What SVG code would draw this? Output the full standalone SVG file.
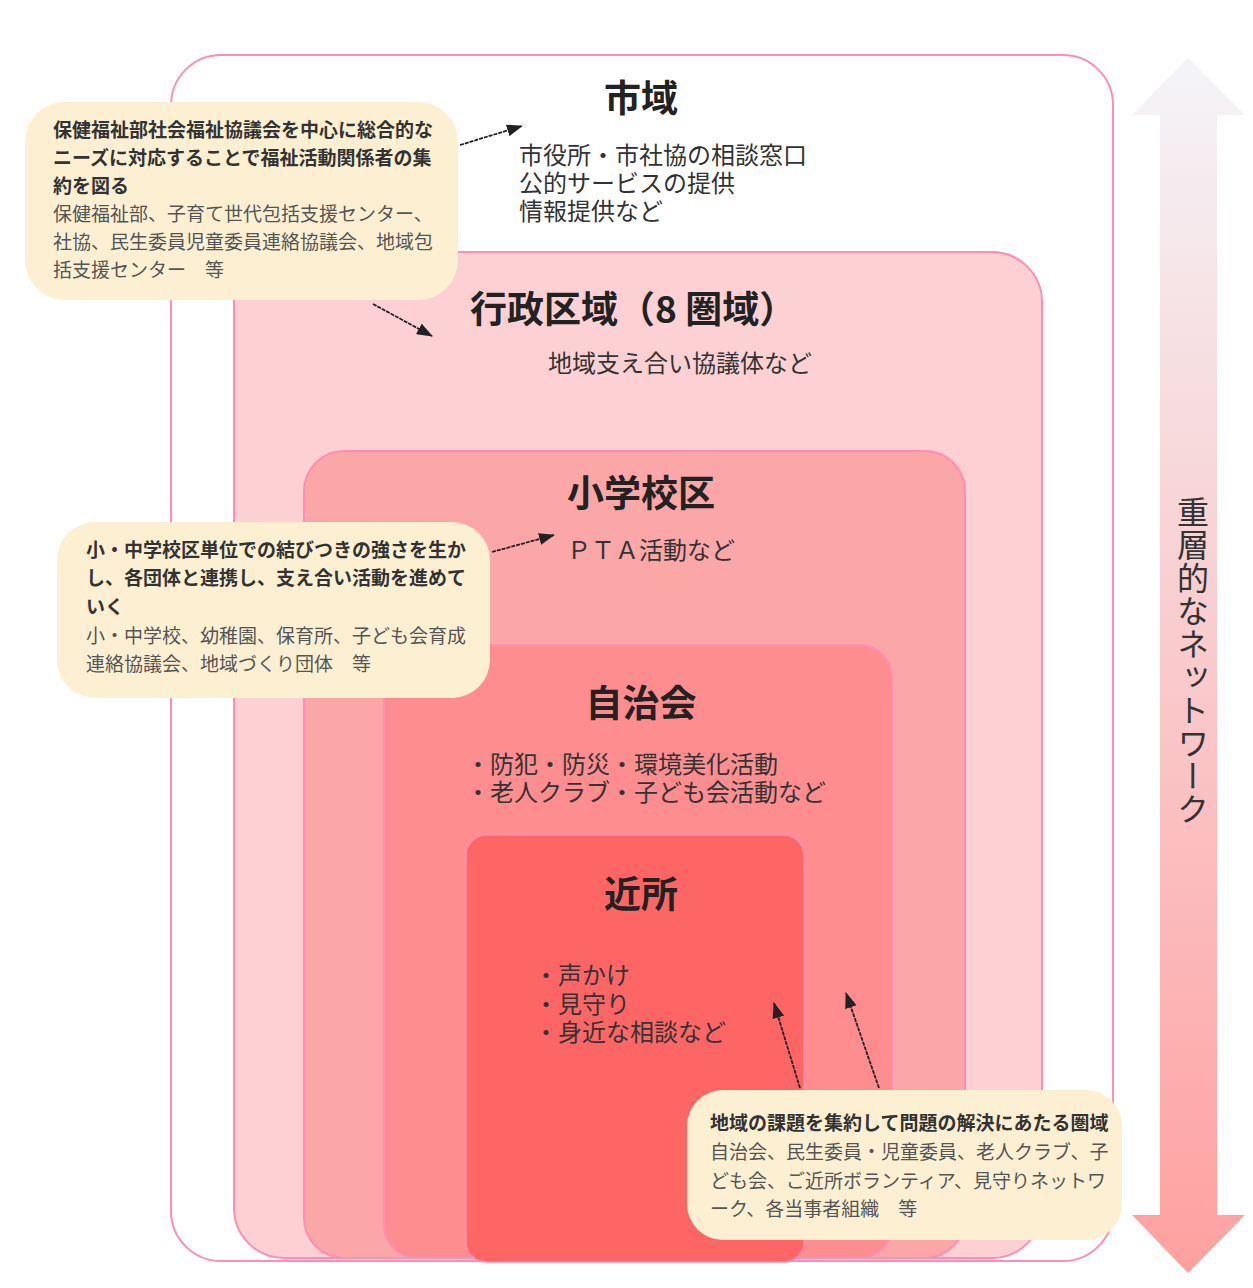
<svg xmlns="http://www.w3.org/2000/svg" width="1253" height="1288" viewBox="0 0 1253 1288">
<defs>
<linearGradient id="g" x1="0" y1="0" x2="0" y2="1">
<stop offset="0" stop-color="#f4f4f8"/>
<stop offset="1" stop-color="#ffa0a0"/>
</linearGradient>
<marker id="a2" viewBox="0 0 16 12" refX="15" refY="6" markerWidth="16" markerHeight="12" orient="auto" markerUnits="userSpaceOnUse">
<path d="M0,0 L16,6 L0,12 z" fill="#222"/>
</marker>
</defs>
<style>
.area{stroke:#ff8db5;stroke-width:2}
.title{font-family:"Noto Sans CJK JP","Noto Sans",sans-serif;font-size:37px;font-weight:bold;fill:#222;text-anchor:middle}
.t{font-family:"Noto Sans CJK JP","Noto Sans",sans-serif;font-size:24px;fill:#333}
.box{fill:#fdf0d2}
.cb{font-family:"Noto Sans CJK JP","Noto Sans",sans-serif;font-size:19px;font-weight:bold;fill:#333}
.cr{font-family:"Noto Sans CJK JP","Noto Sans",sans-serif;font-size:19px;fill:#555}
.con{stroke:#222;stroke-width:1.8;stroke-dasharray:4 1;fill:none}
</style>
<rect width="1253" height="1288" fill="#ffffff"/>
<g id="network-arrow">
<polygon points="1188,58 1245,115 1217,115 1217,1215 1245,1215 1188,1273 1132,1215 1160,1215 1160,115 1132,115" fill="url(#g)"/>
<text x="1193" y="496" font-family="Noto Sans CJK JP,sans-serif" font-size="32" fill="#333" writing-mode="vertical-rl" letter-spacing="1" style="writing-mode:vertical-rl">重層的なネットワーク</text>
</g>
<g id="shiiki">
<rect class="area" x="171" y="55" width="942" height="1206" rx="50" fill="#ffffff"/>
<text class="title" x="641" y="112">市域</text>
<text class="t" x="519" y="164">市役所・市社協の相談窓口</text>
<text class="t" x="519" y="192">公的サービスの提供</text>
<text class="t" x="519" y="220">情報提供など</text>
</g>
<g id="gyoseikuiki">
<rect class="area" x="234" y="252" width="808" height="1006" rx="50" fill="#fdd1d4"/>
<text class="title" x="470" y="323" style="text-anchor:start">行政区域（8 圏域）</text>
<text class="t" x="548" y="372">地域支え合い協議体など</text>
</g>
<g id="shogakkouku">
<rect class="area" x="304" y="451" width="661" height="807" rx="40" fill="#fca7a7"/>
<text class="title" x="641" y="507">小学校区</text>
<text class="t" x="567" y="559">ＰＴＡ活動など</text>
</g>
<g id="jichikai">
<rect class="area" x="384" y="645" width="508" height="613" rx="33" fill="#fd8d8f"/>
<text class="title" x="641" y="717">自治会</text>
<text class="t" x="466" y="773">・防犯・防災・環境美化活動</text>
<text class="t" x="466" y="801">・老人クラブ・子ども会活動など</text>
</g>
<g id="kinjo">
<rect x="466" y="835" width="338" height="427" rx="20" fill="#fe6666" stroke="#ff8db5" stroke-width="1.5"/>
<text class="title" x="641" y="908">近所</text>
<text class="t" x="534" y="984">・声かけ</text>
<text class="t" x="534" y="1013">・見守り</text>
<text class="t" x="534" y="1041">・身近な相談など</text>
</g>
<g id="callout-shiiki">
<rect class="box" x="25" y="102" width="433" height="198" rx="40"/>
<text class="cb" x="53" y="137">保健福祉部社会福祉協議会を中心に総合的な</text>
<text class="cb" x="53" y="165">ニーズに対応することで福祉活動関係者の集</text>
<text class="cb" x="53" y="193">約を図る</text>
<text class="cr" x="53" y="221">保健福祉部、子育て世代包括支援センター、</text>
<text class="cr" x="53" y="249">社協、民生委員児童委員連絡協議会、地域包</text>
<text class="cr" x="53" y="277">括支援センター　等</text>
</g>
<g id="callout-school">
<rect class="box" x="57" y="522" width="433" height="176" rx="38"/>
<text class="cb" x="86" y="557">小・中学校区単位での結びつきの強さを生か</text>
<text class="cb" x="86" y="585">し、各団体と連携し、支え合い活動を進めて</text>
<text class="cb" x="86" y="614">いく</text>
<text class="cr" x="86" y="643">小・中学校、幼稚園、保育所、子ども会育成</text>
<text class="cr" x="86" y="671">連絡協議会、地域づくり団体　等</text>
</g>
<g id="callout-local">
<rect class="box" x="687" y="1090" width="435" height="150" rx="36"/>
<text class="cb" x="710" y="1130">地域の課題を集約して問題の解決にあたる圏域</text>
<text class="cr" x="710" y="1159">自治会、民生委員・児童委員、老人クラブ、子</text>
<text class="cr" x="710" y="1188">ども会、ご近所ボランティア、見守りネットワ</text>
<text class="cr" x="710" y="1216">ーク、各当事者組織　等</text>
</g>
<g id="connectors">
<line class="con" x1="460" y1="145" x2="522" y2="126" marker-end="url(#a2)"/>
<line class="con" x1="373" y1="304" x2="432" y2="336" marker-end="url(#a2)"/>
<line class="con" x1="492" y1="552" x2="554" y2="535" marker-end="url(#a2)"/>
<line class="con" x1="800" y1="1088" x2="774" y2="1003" marker-end="url(#a2)"/>
<line class="con" x1="879" y1="1088" x2="846" y2="993" marker-end="url(#a2)"/>
</g>
</svg>
